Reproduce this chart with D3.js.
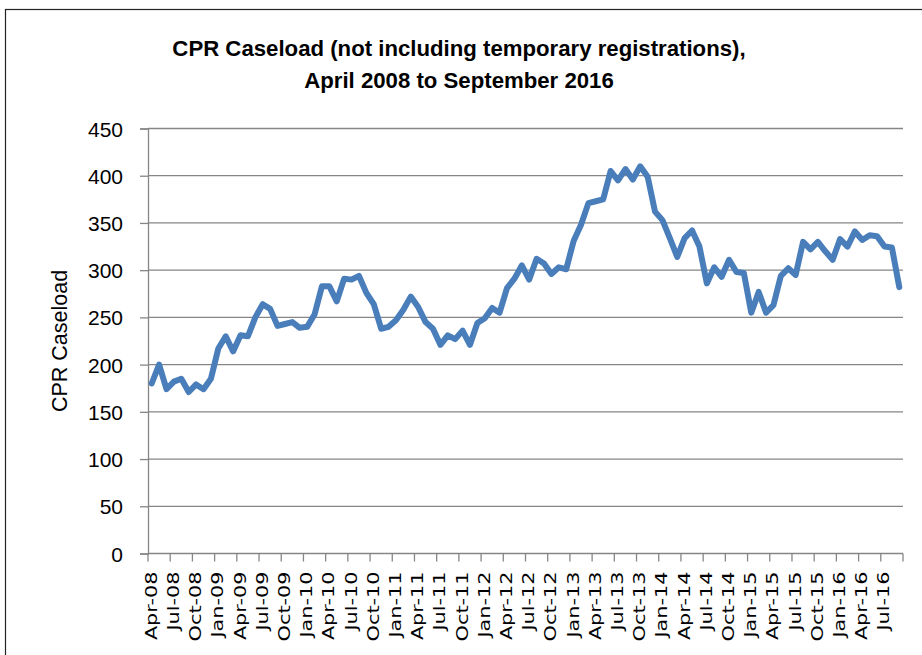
<!DOCTYPE html>
<html>
<head>
<meta charset="utf-8">
<script src="https://cdn.jsdelivr.net/npm/d3@7"></script>
<style>
  body { margin: 0; background: #fff; }
  svg { display: block; }
</style>
</head>
<body>
<div id="chart"></div>
<script>
// monthly caseload, Apr 2008 .. Sep 2016
const startMonth = "2008-04";
const caseload = [
  180, 200, 174, 182, 185, 171, 179, 174, 185, 217, 230, 214,
  231, 230, 250, 264, 259, 241, 243, 245, 239, 240, 253, 283,
  283, 267, 291, 290, 294, 276, 264, 238, 240, 247, 258, 272,
  261, 245, 238, 221, 231, 227, 236, 221, 244, 249, 260, 255,
  281, 291, 305, 290, 312, 307, 296, 303, 301, 331, 348, 371,
  373, 375, 405, 395, 407, 396, 410, 399, 362, 353, 334, 314,
  334, 342, 325, 286, 303, 293, 311, 298, 297, 255, 277, 255,
  263, 294, 302, 295, 330, 322, 330, 320, 311, 333, 325, 341,
  332, 337, 336, 325, 324, 282
];
const yTicks = [0, 50, 100, 150, 200, 250, 300, 350, 400, 450];
const tickLabels = [
  "Apr-08", "Jul-08", "Oct-08", "Jan-09", "Apr-09", "Jul-09", "Oct-09",
  "Jan-10", "Apr-10", "Jul-10", "Oct-10", "Jan-11", "Apr-11", "Jul-11",
  "Oct-11", "Jan-12", "Apr-12", "Jul-12", "Oct-12", "Jan-13", "Apr-13",
  "Jul-13", "Oct-13", "Jan-14", "Apr-14", "Jul-14", "Oct-14", "Jan-15",
  "Apr-15", "Jul-15", "Oct-15", "Jan-16", "Apr-16", "Jul-16"
];
const titleLines = ["CPR Caseload (not including temporary registrations),", "April 2008 to September 2016"];
const yTitle = "CPR Caseload";

const width = 922, height = 655;
const margin = { top: 128.5, right: 19, bottom: 101.5, left: 148 };

const fmt = d3.timeFormat("%b-%y");
const start = d3.timeParse("%Y-%m")(startMonth);
const months = caseload.map((v, i) => fmt(d3.timeMonth.offset(start, i)));

const svg = d3.select("#chart").append("svg")
    .attr("width", width)
    .attr("height", height);

// outer chart frame (runs off the right and bottom edges)
svg.append("rect")
    .attr("x", 5.5).attr("y", 9.5)
    .attr("width", width).attr("height", height)
    .attr("fill", "none")
    .attr("stroke", "#222")
    .attr("stroke-width", 1.2);

const x = d3.scaleBand()
    .domain(months)
    .range([margin.left, width - margin.right])
    .padding(0);

const y = d3.scaleLinear()
    .domain([0, 450])
    .range([height - margin.bottom, margin.top]);

const grid = "#868686";

// horizontal gridlines
svg.append("g")
    .selectAll("line")
    .data(yTicks.filter(d => d > 0))
    .join("line")
    .attr("x1", margin.left).attr("x2", width - margin.right)
    .attr("y1", d => y(d)).attr("y2", d => y(d))
    .attr("stroke", grid)
    .attr("stroke-width", 1.3);

// y axis
const yAxis = svg.append("g")
    .attr("transform", `translate(${margin.left},0)`)
    .call(d3.axisLeft(y).tickValues(yTicks).tickSize(8).tickPadding(17));
yAxis.select(".domain").attr("stroke", grid).attr("stroke-width", 1.3);
yAxis.selectAll(".tick line").attr("stroke", grid).attr("stroke-width", 1.3);
yAxis.selectAll(".tick text")
    .attr("fill", "#000")
    .style("font-family", "'Liberation Sans', Arial, sans-serif")
    .style("font-size", "21px")
    .attr("dy", "0.36em");

// x axis: ticks on category boundaries every 3 months
const base = y(0);
const boundaries = d3.range(0, months.length + 1, 3);
svg.append("line")
    .attr("x1", margin.left).attr("x2", width - margin.right)
    .attr("y1", base).attr("y2", base)
    .attr("stroke", grid).attr("stroke-width", 1.3);
svg.append("g")
    .selectAll("line")
    .data(boundaries)
    .join("line")
    .attr("x1", i => i < months.length ? x(months[i]) : x.range()[1])
    .attr("x2", i => i < months.length ? x(months[i]) : x.range()[1])
    .attr("y1", base).attr("y2", base + 8)
    .attr("stroke", grid).attr("stroke-width", 1.3);

// labels are drawn stretched along their length, as in the original
svg.append("g")
    .selectAll("text")
    .data(tickLabels)
    .join("text")
    .attr("transform", d => `translate(${x(d) + x.bandwidth() / 2 + 5},${base + 18}) rotate(-90) scale(1.3,1)`)
    .attr("text-anchor", "end")
    .style("font-family", "'DejaVu Sans', Verdana, sans-serif")
    .style("font-size", "16px")
    .text(d => d);

// the series
const line = d3.line()
    .x((d, i) => x(months[i]) + x.bandwidth() / 2)
    .y(d => y(d));

svg.append("path")
    .datum(caseload)
    .attr("fill", "none")
    .attr("stroke", "#4a7ebb")
    .attr("stroke-width", 6)
    .attr("stroke-linejoin", "round")
    .attr("stroke-linecap", "round")
    .attr("d", line);

// y axis title
svg.append("text")
    .attr("transform", "translate(67,341) rotate(-90)")
    .attr("text-anchor", "middle")
    .style("font-family", "'Liberation Sans', Arial, sans-serif")
    .style("font-size", "21.5px")
    .text(yTitle);

// chart title
svg.append("g")
    .selectAll("text")
    .data(titleLines)
    .join("text")
    .attr("x", 459)
    .attr("y", (d, i) => 56 + i * 32)
    .attr("text-anchor", "middle")
    .style("font-family", "'Liberation Sans Narrow', 'Liberation Sans', Arial, sans-serif")
    .style("font-weight", "bold")
    .style("font-size", "22.2px")
    .text(d => d);
</script>
</body>
</html>
